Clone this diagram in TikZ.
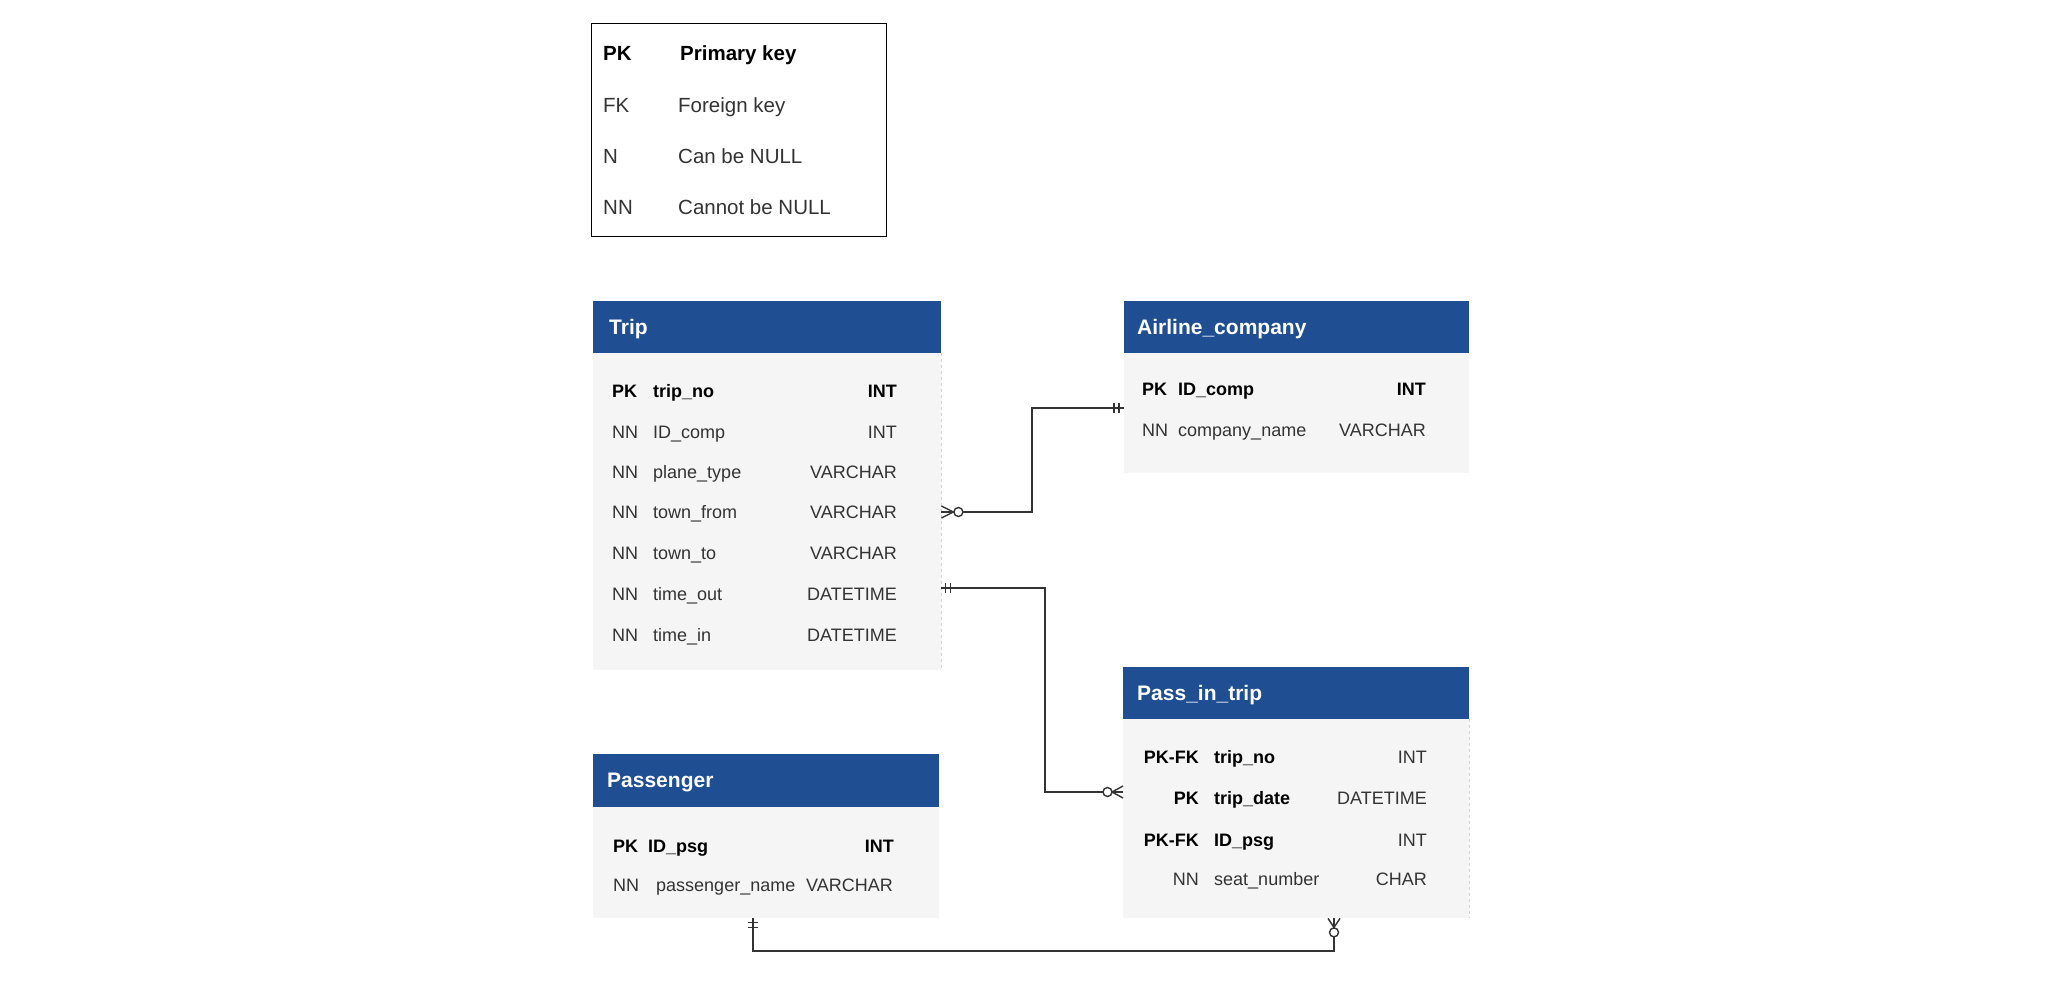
\documentclass[tikz,border=0pt]{standalone}
\usepackage{fontspec}
\setmainfont{Liberation Sans}
\usetikzlibrary{calc}
\definecolor{hdr}{HTML}{1F4E93}
\definecolor{bodyc}{HTML}{F5F5F5}
\definecolor{txt}{HTML}{333333}
\definecolor{connc}{HTML}{333333}
\tikzset{
  hdrbox/.style={fill=hdr, draw=none, inner sep=0pt, anchor=north west},
  bodybox/.style={fill=bodyc, draw=none, inner sep=0pt, anchor=north west},
  edgeline/.style={draw=gray!35, dashed, line width=0.8pt},
  htext/.style={anchor=west, text=white, font=\fontsize{21}{25}\selectfont\bfseries, inner sep=0pt, text height=15pt, text depth=0pt},
  rowt/.style={anchor=west, text=txt, font=\fontsize{18}{22}\selectfont, inner sep=0pt, text height=13pt, text depth=0pt},
  rowb/.style={anchor=west, text=black, font=\fontsize{18}{22}\selectfont\bfseries, inner sep=0pt, text height=13pt, text depth=0pt},
  rowtr/.style={rowt, anchor=east},
  rowbr/.style={rowb, anchor=east},
  legt/.style={anchor=west, text=txt, font=\fontsize{20.5}{24}\selectfont, inner sep=0pt, text height=14.5pt, text depth=0pt},
  legb/.style={anchor=west, text=black, font=\fontsize{20.5}{24}\selectfont\bfseries, inner sep=0pt, text height=14.5pt, text depth=0pt},
  conn/.style={draw=connc, line width=1.4pt},
  ring/.style={draw=connc, line width=1.4pt, fill=white},
}
\begin{document}
\begin{tikzpicture}[x=1pt,y=-1pt]
\fill[white] (0,0) rectangle (2052,992);
\useasboundingbox (0,0) rectangle (2052,992);

% ---------- legend ----------
\node[draw=black, line width=1.2pt, minimum width=295, minimum height=213, anchor=north west, inner sep=0pt] (legend) at (591,23) {};
\node[legb] (lpk) at (603,53) {PK};
\node[legb] (lpkd) at (680,53) {Primary key};
\node[legt] (lfk) at (603,105) {FK};
\node[legt] (lfkd) at (678,105) {Foreign key};
\node[legt] (ln) at (603,156) {N};
\node[legt] (lnd) at (678,156) {Can be NULL};
\node[legt] (lnn) at (603,207) {NN};
\node[legt] (lnnd) at (678,207) {Cannot be NULL};

% ---------- Trip ----------
\node[bodybox, minimum width=348, minimum height=317] (tripb) at (593,353) {};
\node[hdrbox, minimum width=348, minimum height=52] (triph) at (593,301) {};
\draw[edgeline] (tripb.north east) -- (tripb.south east);
\node[htext] (tript) at (609,327) {Trip};
\node[rowb] (tk1) at (612,391) {PK};
\node[rowb] (t1) at (653,391) {trip\_no};
\node[rowbr] (ty1) at (897,391) {INT};
\node[rowt] (tk2) at (612,432) {NN};
\node[rowt] (t2) at (653,432) {ID\_comp};
\node[rowtr] (ty2) at (897,432) {INT};
\node[rowt] (tk3) at (612,472) {NN};
\node[rowt] (t3) at (653,472) {plane\_type};
\node[rowtr] (ty3) at (897,472) {VARCHAR};
\node[rowt] (tk4) at (612,512) {NN};
\node[rowt] (t4) at (653,512) {town\_from};
\node[rowtr] (ty4) at (897,512) {VARCHAR};
\node[rowt] (tk5) at (612,553) {NN};
\node[rowt] (t5) at (653,553) {town\_to};
\node[rowtr] (ty5) at (897,553) {VARCHAR};
\node[rowt] (tk6) at (612,594) {NN};
\node[rowt] (t6) at (653,594) {time\_out};
\node[rowtr] (ty6) at (897,594) {DATETIME};
\node[rowt] (tk7) at (612,635) {NN};
\node[rowt] (t7) at (653,635) {time\_in};
\node[rowtr] (ty7) at (897,635) {DATETIME};

% ---------- Airline_company ----------
\node[bodybox, minimum width=345, minimum height=120] (airb) at (1124,353) {};
\node[hdrbox, minimum width=345, minimum height=52] (airh) at (1124,301) {};
\node[htext] (airt) at (1137,327) {Airline\_company};
\node[rowb] (ak1) at (1142,389) {PK};
\node[rowb] (a1) at (1178,389) {ID\_comp};
\node[rowbr] (ay1) at (1426,389) {INT};
\node[rowt] (ak2) at (1142,430) {NN};
\node[rowt] (a2) at (1178,430) {company\_name};
\node[rowtr] (ay2) at (1426,430) {VARCHAR};

% ---------- Pass_in_trip ----------
\node[bodybox, minimum width=346, minimum height=199] (passb) at (1123,719) {};
\node[hdrbox, minimum width=346, minimum height=52] (passh) at (1123,667) {};
\draw[edgeline] (passb.north east) -- (passb.south east);
\node[htext] (passt) at (1137,693) {Pass\_in\_trip};
\node[rowbr] (pk1) at (1199,757) {PK-FK};
\node[rowb] (p1) at (1214,757) {trip\_no};
\node[rowtr] (py1) at (1427,757) {INT};
\node[rowbr] (pk2) at (1199,798) {PK};
\node[rowb] (p2) at (1214,798) {trip\_date};
\node[rowtr] (py2) at (1427,798) {DATETIME};
\node[rowbr] (pk3) at (1199,840) {PK-FK};
\node[rowb] (p3) at (1214,840) {ID\_psg};
\node[rowtr] (py3) at (1427,840) {INT};
\node[rowtr] (pk4) at (1199,879) {NN};
\node[rowt] (p4) at (1214,879) {seat\_number};
\node[rowtr] (py4) at (1427,879) {CHAR};

% ---------- Passenger ----------
\node[bodybox, minimum width=346, minimum height=111] (psgb) at (593,807) {};
\node[hdrbox, minimum width=346, minimum height=53] (psgh) at (593,754) {};
\node[htext] (psgt) at (607,780) {Passenger};
\node[rowb] (gk1) at (613,846) {PK};
\node[rowb] (g1) at (648,846) {ID\_psg};
\node[rowbr] (gy1) at (894,846) {INT};
\node[rowt] (gk2) at (613,885) {NN};
\node[rowt] (g2) at (656,885) {passenger\_name};
\node[rowtr] (gy2) at (893,885) {VARCHAR};

% ---------- connector 1: Trip (many, optional) -- Airline (one, mandatory) ----------
\coordinate (c1a) at (tripb.east |- t4.west);
\coordinate (c1b) at (airb.west |- 0,408);
\draw[conn] (c1a) -- (1032,0 |- c1a) |- (c1b);
\draw[conn] ($(c1a)+(0,-6)$) -- ($(c1a)+(12,0)$) -- ($(c1a)+(0,6)$);
\draw[ring] ($(c1a)+(17,0)$) circle (4.5);
\draw[conn] ($(c1b)+(-10,-5)$) -- ($(c1b)+(-10,5)$);
\draw[conn] ($(c1b)+(-5,-5)$) -- ($(c1b)+(-5,5)$);

% ---------- connector 2: Trip (one, mandatory) -- Pass_in_trip (many, optional) ----------
\coordinate (c2a) at (tripb.east |- 0,588);
\coordinate (c2b) at (passb.west |- 0,792);
\draw[conn] (c2a) -- (1045,0 |- c2a) |- (c2b);
\draw[conn] ($(c2a)+(4,-5)$) -- ($(c2a)+(4,5)$);
\draw[conn] ($(c2a)+(9,-5)$) -- ($(c2a)+(9,5)$);
\draw[conn] ($(c2b)+(0,-6)$) -- ($(c2b)+(-11,0)$) -- ($(c2b)+(0,6)$);
\draw[ring] ($(c2b)+(-15.5,0)$) circle (4.5);

% ---------- connector 3: Passenger (one, mandatory) -- Pass_in_trip (many, optional) ----------
\coordinate (c3a) at (753,0 |- psgb.south);
\coordinate (c3b) at (1334,0 |- passb.south);
\draw[conn] (c3a) -- (753,951) -| (c3b);
\draw[conn] ($(c3a)+(-5,4)$) -- ($(c3a)+(5,4)$);
\draw[conn] ($(c3a)+(-5,9)$) -- ($(c3a)+(5,9)$);
\draw[conn] ($(c3b)+(-6,0)$) -- ($(c3b)+(0,9)$) -- ($(c3b)+(6,0)$);
\draw[ring] ($(c3b)+(0,14)$) circle (4.5);
\end{tikzpicture}
\end{document}
